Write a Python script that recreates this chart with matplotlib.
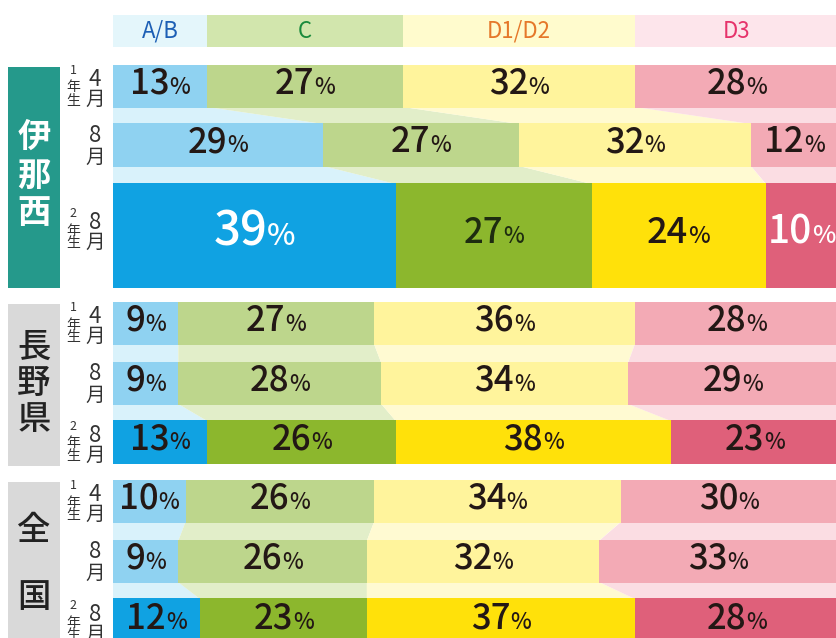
import numpy as np
import matplotlib
matplotlib.use("Agg")
import matplotlib.pyplot as plt
from matplotlib.offsetbox import TextArea, HPacker, AnnotationBbox

# ------------------------------------------------------
# 100% stacked bars: A/B, C, D1/D2, D3 shares per group
# ------------------------------------------------------

plt.rcParams['font.family'] = ['Noto Sans CJK JP', 'DejaVu Sans']

categories = ['A/B', 'C', 'D1/D2', 'D3']
groups = ['伊那西', '長野県', '全国']
row_grade = ['1', None, '2']     # 1年生 / (same) / 2年生
row_month = ['4', '8', '8']      # 4月 / 8月 / 8月

inanishi = [[13, 27, 32, 28], [29, 27, 32, 12], [39, 27, 24, 10]]
nagano = [[9, 27, 36, 28], [9, 28, 34, 29], [13, 26, 38, 23]]
zenkoku = [[10, 26, 34, 30], [9, 26, 32, 33], [12, 23, 37, 28]]
values = [inanishi, nagano, zenkoku]

# colours
light = ['#8fd2f1', '#bdd68c', '#fff49c', '#f3aab5']
dark = ['#10a2e2', '#8cb72d', '#ffe10a', '#df607a']
pale = ['#d9f2fb', '#e2eec9', '#fffad2', '#fbdde3']
head_bg = ['#e4f6fb', '#d2e6ad', '#fffbcd', '#fde5eb']
head_fg = ['#1d5fb5', '#1a8a3c', '#e5782a', '#e6336b']
box_col = ['#25998b', '#d9d9d9', '#d9d9d9']
box_txt = ['white', '#222222', '#222222']

# layout (pixel rows, y grows downwards)
W, H = 836, 638
X0, SCALE = 113, 7.25            # bar origin px, px per percent
rows_y = [[(65, 108), (123, 167), (183, 288)],
          [(302, 345), (362, 405), (420, 464)],
          [(480, 523), (540, 583), (598, 645)]]
boxes_y = [(67, 288), (304, 466), (482, 650)]


def px(p):
    """pixel column -> data x (percent)"""
    return (p - X0) / SCALE


def pct_label(ax, x, y, num, size, color, weight='medium'):
    big = TextArea(num, textprops=dict(fontsize=size, color=color, fontweight=weight))
    small = TextArea('%', textprops=dict(fontsize=size * 0.64, color=color, fontweight=weight))
    pack = HPacker(children=[big, small], align='baseline', pad=0, sep=0)
    ab = AnnotationBbox(pack, (x, y), frameon=False, box_alignment=(0.5, 0.42),
                        pad=0, zorder=5)
    ax.add_artist(ab)


fig = plt.figure(figsize=(W / 100, H / 100), dpi=100)
ax = fig.add_axes([0, 0, 1, 1])
ax.set_xlim(px(0), px(W))
ax.set_ylim(H, 0)
ax.axis('off')

# header strip coloured like the first row
first = np.array(inanishi[0], dtype=float)
h_left = np.concatenate([[0], np.cumsum(first)[:-1]])
h_width = first.copy()
h_width[-1] += 2
ax.barh(31, h_width, left=h_left, height=32, color=head_bg, lw=0, zorder=1)
for j, cat in enumerate(categories):
    ax.text(h_left[j] + first[j] / 2, 31, cat, color=head_fg[j], fontsize=16,
            ha='center', va='center')

lab_col = '#333333'
for g, grp in enumerate(values):
    data = np.array(grp, dtype=float)
    lefts = np.hstack([np.zeros((3, 1)), np.cumsum(data, axis=1)[:, :-1]])

    # pale connectors between consecutive rows
    for i in range(2):
        b0 = rows_y[g][i][1]
        t1 = rows_y[g][i + 1][0]
        for j in range(4):
            l0, r0 = lefts[i, j], lefts[i, j] + data[i, j]
            l1, r1 = lefts[i + 1, j], lefts[i + 1, j] + data[i + 1, j]
            ax.fill([l0, r0, r1, l1], [b0 - 1, b0 - 1, t1 + 1, t1 + 1],
                    color=pale[j], lw=0, zorder=1)

    # the bars
    for i in range(3):
        top, bot = rows_y[g][i]
        yc = (top + bot) / 2
        cols = dark if i == 2 else light
        ax.barh(yc, data[i], left=lefts[i], height=bot - top, color=cols,
                lw=0, zorder=2)
        for j in range(4):
            xc = lefts[i, j] + data[i, j] / 2
            size, color = 25, '#231815'
            if g == 0 and i == 2:
                size = [34, 25, 26, 28][j]
                color = ['white', '#1e2c10', '#231815', 'white'][j]
            pct_label(ax, xc, yc, str(int(data[i, j])), size, color)

        # row label (grade / month)
        mx = px(95)
        if row_grade[i] is not None:
            if bot - top > 60:
                yc = yc - 6
            gx = px(73)
            ax.text(gx, yc - 16, row_grade[i], fontsize=9, ha='center', va='center', color=lab_col)
            ax.text(gx, yc + 1, '年', fontsize=10, ha='center', va='center', color=lab_col)
            ax.text(gx, yc + 14, '生', fontsize=10, ha='center', va='center', color=lab_col)
            ax.text(mx, yc - 7, row_month[i], fontsize=16, ha='center', va='center', color=lab_col)
            ax.text(mx, yc + 13, '月', fontsize=14, ha='center', va='center', color=lab_col)
        else:
            ax.text(mx, yc - 10, row_month[i], fontsize=16, ha='center', va='center', color=lab_col)
            ax.text(mx, yc + 12, '月', fontsize=14, ha='center', va='center', color=lab_col)

    # group box on the left
    bt, bb = boxes_y[g]
    ax.fill([px(8), px(60), px(60), px(8)], [bt, bt, bb, bb], color=box_col[g], lw=0, zorder=1)
    name = groups[g]
    if len(name) == 3:
        ys = [137, 176, 214] if g == 0 else [347, 384, 420]
    else:
        ys = [530, 598]
    for ch, yy in zip(name, ys):
        ax.text(px(34), yy, ch, fontsize=24, fontweight='bold' if g == 0 else 'medium',
                color=box_txt[g], ha='center', va='center')

fig.savefig('out.png', dpi=100)
